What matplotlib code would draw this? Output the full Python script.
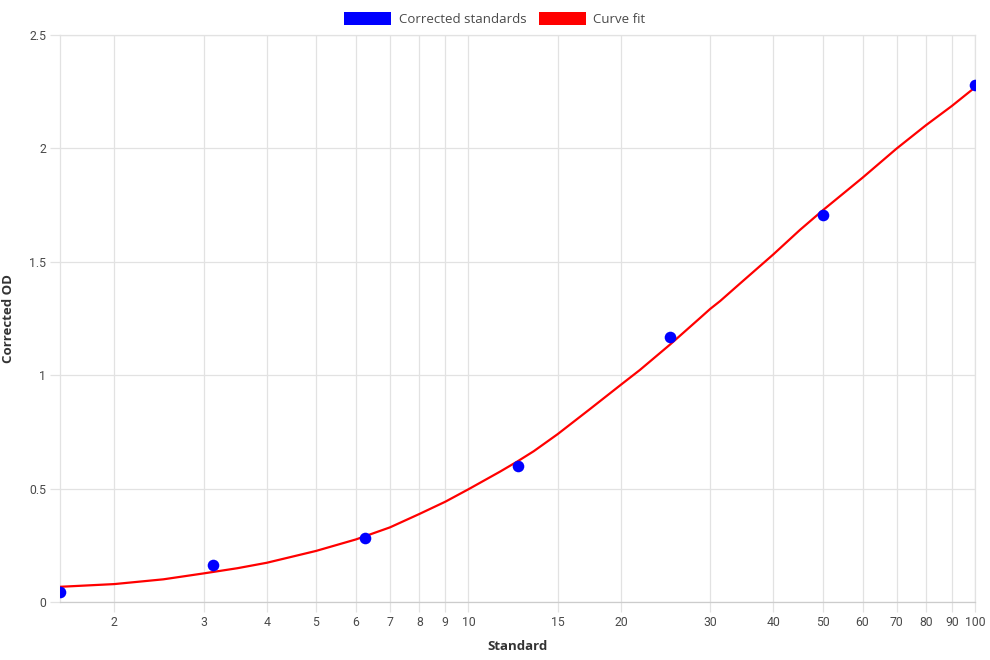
import matplotlib
matplotlib.use("Agg")
from matplotlib import pyplot as plt
from matplotlib.patches import Patch
from matplotlib.ticker import FixedLocator, FixedFormatter, NullLocator

# measured standards
std_x = [1.5625, 3.125, 6.25, 12.5, 25, 50, 100]
std_y = [0.044, 0.163, 0.282, 0.600, 1.168, 1.708, 2.280]

# curve fit
fit_x = [1.5625, 2, 2.5, 3, 3.5, 4, 5, 6, 7, 8, 9, 10, 11.55, 12.5, 13.46,
         15, 17.36, 20, 21.8, 25, 28.65, 30, 31.4, 34.4, 40, 45.1, 50, 60,
         70, 80, 90, 100]
fit_y = [0.067, 0.079, 0.100, 0.126, 0.149, 0.173, 0.225, 0.276, 0.329,
         0.388, 0.442, 0.497, 0.575, 0.620, 0.665, 0.740, 0.850, 0.958,
         1.023, 1.135, 1.252, 1.292, 1.327, 1.405, 1.533, 1.640, 1.726,
         1.871, 1.999, 2.102, 2.187, 2.269]

x_ticks = [2, 3, 4, 5, 6, 7, 8, 9, 10, 15, 20, 30, 40, 50, 60, 70, 80, 90, 100]
y_ticks = [0, 0.5, 1, 1.5, 2, 2.5]
y_labels = ['0', '0.5', '1', '1.5', '2', '2.5']

grid_c = '#e2e2e2'
txt_c = '#4a4a4a'

fig = plt.figure(figsize=(9.9, 6.6), dpi=100)
ax = fig.add_axes([60 / 990, 58 / 660, 915 / 990, 567 / 660])

ax.plot(fit_x, fit_y, color='red', linewidth=1.6, zorder=3)
ax.scatter(std_x, std_y, s=70, color='blue', zorder=4, linewidths=0)

ax.set_xscale('log')
ax.set_xlim(1.5625, 100)
ax.set_ylim(0, 2.5)

ax.xaxis.set_major_locator(FixedLocator(x_ticks))
ax.xaxis.set_major_formatter(FixedFormatter([str(t) for t in x_ticks]))
ax.xaxis.set_minor_locator(NullLocator())
ax.set_yticks(y_ticks)
ax.set_yticklabels(y_labels)

ax.grid(True, color=grid_c, linewidth=0.9)
ax.set_axisbelow(True)
for s in ax.spines.values():
    s.set_color(grid_c)
    s.set_linewidth(0.9)
ax.spines['bottom'].set_color('#cccccc')
ax.tick_params(axis='both', length=7, color=grid_c, width=0.9,
               labelsize=8.8, labelcolor=txt_c, pad=3)
for lab in ax.get_xticklabels() + ax.get_yticklabels():
    lab.set_fontfamily('Roboto')

ax.set_xlabel('Standard', fontsize=9.5, fontweight='bold', color='#333333',
              family='Open Sans', labelpad=8)
ax.set_ylabel('Corrected OD', fontsize=9.5, fontweight='bold', color='#333333',
              family='Open Sans', labelpad=10)

handles = [Patch(facecolor='blue', edgecolor='none', label='Corrected standards'),
           Patch(facecolor='red', edgecolor='none', label='Curve fit')]
leg = fig.legend(handles=handles, loc='upper center', bbox_to_anchor=(0.5, 1.0),
                 ncol=2, frameon=False, handlelength=3.5,
                 handleheight=1.2, handletextpad=0.6, columnspacing=1.0,
                 prop={'family': 'Open Sans', 'size': 9.5})
for t in leg.get_texts():
    t.set_color(txt_c)

fig.savefig('out.png', dpi=100)
